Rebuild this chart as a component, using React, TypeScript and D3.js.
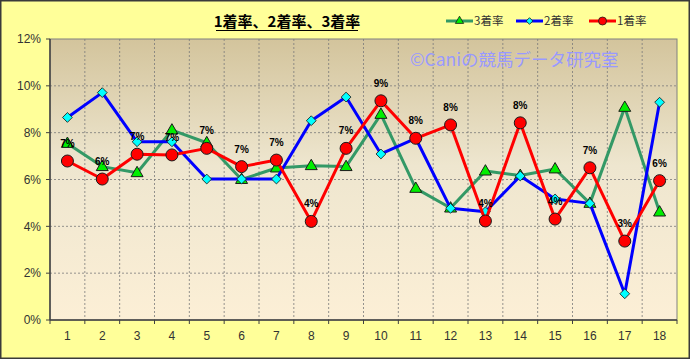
import React from "react";
import * as d3 from "d3";

const categories = ["1","2","3","4","5","6","7","8","9","10","11","12","13","14","15","16","17","18"];
const rate1 = [6.79, 6.02, 7.08, 7.05, 7.33, 6.55, 6.83, 4.21, 7.33, 9.36, 7.76, 8.33, 4.23, 8.42, 4.31, 6.5, 3.37, 5.95];
const rate2 = [8.65, 9.71, 7.61, 7.61, 6.02, 6.02, 6.02, 8.51, 9.52, 7.09, 7.76, 4.77, 4.62, 6.15, 5.17, 4.98, 1.12, 9.3];
const rate3 = [7.54, 6.55, 6.29, 8.11, 7.57, 6.0, 6.49, 6.59, 6.55, 8.78, 5.62, 4.78, 6.36, 6.17, 6.45, 4.98, 9.08, 4.61];
const yTicks = [0, 2, 4, 6, 8, 10, 12];
const title = "1着率、2着率、3着率";
const watermark = "©Caniの競馬データ研究室";

const W = 690, H = 359;
const L = 50, R = 677, T = 39, B = 320;

export default function App() {
  const x = d3.scaleBand<string>().domain(categories).range([L, R]).padding(0);
  const y = d3.scaleLinear().domain([0, 12]).range([B, T]);
  const cx = (i: number) => (x(categories[i]) as number) + x.bandwidth() / 2;
  const line = d3.line<number>().x((_, i) => cx(i)).y((v) => y(v));
  const tri = d3.symbol().type(d3.symbolTriangle).size(62)() as string;
  const dia = d3.symbol().type(d3.symbolSquare).size(48)() as string;
  const font = "'Liberation Sans', Arial, sans-serif";
  const jp = "'Noto Sans CJK JP', sans-serif";

  const bounds = categories.map((c) => x(c) as number).concat([R]);

  return (
    <svg width={W} height={H} style={{ position: "absolute", left: 0, top: 0 }} xmlns="http://www.w3.org/2000/svg">
      <defs>
        <linearGradient id="pg" x1="0" y1="0" x2="0" y2="1">
          <stop offset="0" stopColor="#D3C49C" />
          <stop offset="0.45" stopColor="#EEE6CF" />
          <stop offset="1" stopColor="#FCEFD6" />
        </linearGradient>
      </defs>
      <rect x={0.75} y={0.75} width={W - 1.5} height={H - 1.5} fill="#FFFF99" stroke="#3a3a3a" strokeWidth={1.5} />
      <rect x={L} y={T} width={R - L} height={B - T} fill="url(#pg)" stroke="#808080" strokeWidth={1} />
      {yTicks.slice(1, -1).map((t) => (
        <line key={"h" + t} x1={L} x2={R} y1={y(t)} y2={y(t)} stroke="#7a7a7a" strokeWidth={0.8} strokeDasharray="2,2" />
      ))}
      {bounds.slice(1, -1).map((b, i) => (
        <line key={"v" + i} x1={b} x2={b} y1={T} y2={B} stroke="#7a7a7a" strokeWidth={0.8} strokeDasharray="2,2" />
      ))}
      <text x={410} y={66} fontFamily={jp} fontSize={17.5} fill="#9999FF">{watermark}</text>
      <line x1={L} x2={L} y1={T} y2={B} stroke="#404040" strokeWidth={1.5} />
      <line x1={L} x2={R} y1={B} y2={B} stroke="#404040" strokeWidth={1.5} />
      {yTicks.map((t) => (
        <g key={"yt" + t}>
          <line x1={L - 4} x2={L} y1={y(t)} y2={y(t)} stroke="#404040" />
          <text x={41} y={y(t)} dy="0.35em" textAnchor="end" fontFamily={font} fontSize={12} fill="#333">{t + "%"}</text>
        </g>
      ))}
      {bounds.map((b, i) => (
        <line key={"xt" + i} x1={b} x2={b} y1={B} y2={B + 4} stroke="#404040" />
      ))}
      {categories.map((c, i) => (
        <text key={"xl" + c} x={cx(i)} y={340} textAnchor="middle" fontFamily={font} fontSize={12} fill="#333">{c}</text>
      ))}
      <path d={line(rate3) as string} fill="none" stroke="#339966" strokeWidth={3} strokeLinejoin="round" />
      {rate3.map((v, i) => (
        <path key={"g" + i} d={tri} transform={`translate(${cx(i)},${y(v) + 0.5})`} fill="#00EE00" stroke="#1a1a1a" strokeWidth={1} />
      ))}
      <path d={line(rate2) as string} fill="none" stroke="#0000FF" strokeWidth={3} strokeLinejoin="round" />
      {rate2.map((v, i) => (
        <path key={"b" + i} d={dia} transform={`translate(${cx(i)},${y(v)}) rotate(45)`} fill="#00FFFF" stroke="#1a1a1a" strokeWidth={0.8} />
      ))}
      <path d={line(rate1) as string} fill="none" stroke="#FF0000" strokeWidth={3} strokeLinejoin="round" />
      {rate1.map((v, i) => (
        <circle key={"r" + i} cx={cx(i)} cy={y(v)} r={6} fill="#FF0000" stroke="#1a1a1a" strokeWidth={1} />
      ))}
      {rate1.map((v, i) => (
        <text key={"lb" + i} x={cx(i)} y={y(v) - 14} textAnchor="middle" fontFamily={font} fontWeight="bold" fontSize={10} fill="#000">{Math.round(v) + "%"}</text>
      ))}
      <text x={287} y={27} textAnchor="middle" fontFamily={jp} fontWeight="bold" fontSize={15} fill="#000">{title}</text>
      <line x1={216} x2={358} y1={30.5} y2={30.5} stroke="#000" strokeWidth={1} />
      {[
        { name: "3着率", color: "#339966", x0: 446, m: "tri" },
        { name: "2着率", color: "#0000FF", x0: 516, m: "dia" },
        { name: "1着率", color: "#FF0000", x0: 589, m: "cir" },
      ].map((s) => (
        <g key={s.name}>
          <line x1={s.x0} x2={s.x0 + 27} y1={21} y2={21} stroke={s.color} strokeWidth={3} />
          {s.m === "tri" && <path d={d3.symbol().type(d3.symbolTriangle).size(30)() as string} transform={`translate(${s.x0 + 13.5},21)`} fill="#00EE00" stroke="#1a1a1a" strokeWidth={0.8} />}
          {s.m === "dia" && <path d={d3.symbol().type(d3.symbolSquare).size(22)() as string} transform={`translate(${s.x0 + 13.5},21) rotate(45)`} fill="#00FFFF" stroke="#1a1a1a" strokeWidth={0.8} />}
          {s.m === "cir" && <circle cx={s.x0 + 13.5} cy={21} r={4} fill="#FF0000" stroke="#1a1a1a" strokeWidth={0.8} />}
          <text x={s.x0 + 28} y={21} dy="0.35em" fontFamily={jp} fontSize={11.5} fill="#333">{s.name}</text>
        </g>
      ))}
    </svg>
  );
}
